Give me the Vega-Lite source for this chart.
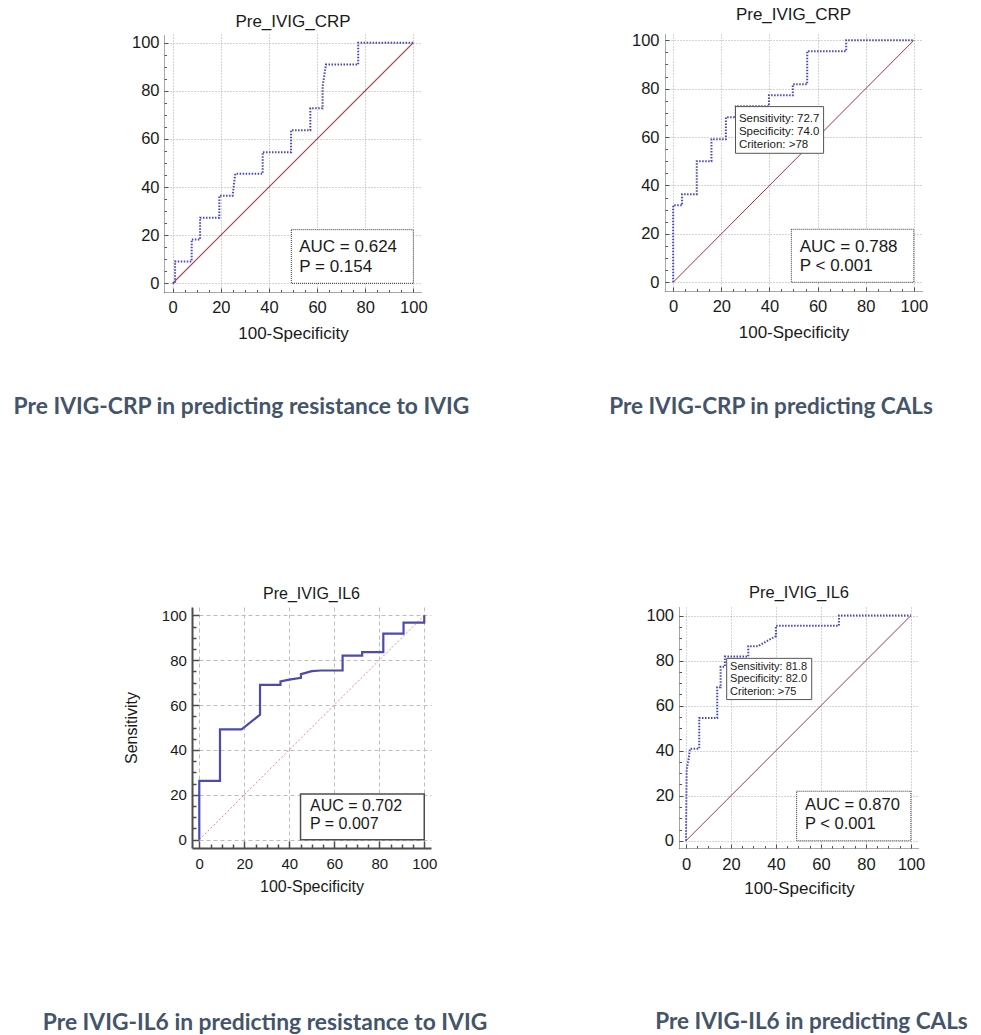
{
  "$schema": "https://vega.github.io/schema/vega-lite/v6.json",
  "autosize": {"type": "none"},
  "padding": {"left": 164, "top": 34, "right": 817, "bottom": 1001},
  "background": "white",
  "config": {"view": {"stroke": null}},
  "bounds": "flush",
  "spacing": 573,
  "vconcat": [
    {
      "hconcat": [
        {
          "bounds": "flush",
          "title": {"text": "Pre IVIG-CRP in predicting resistance to IVIG", "orient": "bottom", "anchor": "middle", "frame": "group", "dx": 77.5, "offset": 72, "font": "Lato", "fontSize": 22.8, "fontWeight": "bold", "color": "#44546A", "baseline": "alphabetic"},
          "vconcat": [
            {
              "width": 258, "height": 258,
              "title": {"text": "Pre_IVIG_CRP", "font": "Liberation Sans", "fontSize": 17, "fontWeight": "normal", "color": "#1a1a1a", "baseline": "alphabetic", "offset": -10, "anchor": "middle", "frame": "group"},
              "resolve": {"axis": {"x": "independent", "y": "independent"}},
              "layer": [
                {
                  "data": {"values": [{"fpr": 0, "sens": 0, "ref": "chance"}, {"fpr": 100, "sens": 100, "ref": "chance"}]},
                  "mark": {"type": "line", "stroke": "#b0323c", "strokeWidth": 1.1, "strokeOpacity": 1},
                  "encoding": {
                    "x": {"field": "fpr", "type": "quantitative", "scale": {"domain": [-3.6, 103.6], "nice": false, "zero": false},
                      "axis": {"orient": "bottom", "values": [5,10,15,25,30,35,45,50,55,65,70,75,85,90,95], "labels": false, "grid": false, "domain": false, "title": null, "tickSize": -2.5, "tickColor": "#555555", "tickWidth": 1}},
                    "y": {"field": "sens", "type": "quantitative", "scale": {"domain": [-3.6, 103.6], "nice": false, "zero": false},
                      "axis": {"orient": "left", "values": [5,10,15,25,30,35,45,50,55,65,70,75,85,90,95], "labels": false, "grid": false, "domain": false, "title": null, "tickSize": -2.5, "tickColor": "#555555", "tickWidth": 1}}
                  }
                },
                {
                  "data": {"values": [
                    {"i": 0, "fpr": 0, "sens": 0}, {"i": 1, "fpr": 1, "sens": 0}, {"i": 2, "fpr": 1, "sens": 9.1},
                    {"i": 3, "fpr": 7.9, "sens": 9.1}, {"i": 4, "fpr": 7.9, "sens": 18.2}, {"i": 5, "fpr": 11.4, "sens": 18.2},
                    {"i": 6, "fpr": 11.4, "sens": 27.3}, {"i": 7, "fpr": 19.4, "sens": 27.3}, {"i": 8, "fpr": 19.4, "sens": 36.4},
                    {"i": 9, "fpr": 24.9, "sens": 36.4}, {"i": 10, "fpr": 26, "sens": 45.5}, {"i": 11, "fpr": 37.4, "sens": 45.5},
                    {"i": 12, "fpr": 37.4, "sens": 54.5}, {"i": 13, "fpr": 49.2, "sens": 54.5}, {"i": 14, "fpr": 49.2, "sens": 63.6},
                    {"i": 15, "fpr": 57.2, "sens": 63.6}, {"i": 16, "fpr": 57.2, "sens": 72.7}, {"i": 17, "fpr": 62.3, "sens": 72.7},
                    {"i": 18, "fpr": 62.3, "sens": 81.8}, {"i": 19, "fpr": 63.7, "sens": 90.9}, {"i": 20, "fpr": 77.1, "sens": 90.9},
                    {"i": 21, "fpr": 77.1, "sens": 100}, {"i": 22, "fpr": 100, "sens": 100}
                  ]},
                  "mark": {"type": "line", "stroke": "#4545c4", "strokeWidth": 2, "strokeDash": [1.5, 1.5]},
                  "encoding": {
                    "x": {"field": "fpr", "type": "quantitative", "scale": {"domain": [-3.6, 103.6], "nice": false, "zero": false},
                      "axis": {"orient": "bottom", "values": [0,20,40,60,80,100], "title": "100-Specificity", "grid": true, "gridColor": "#a8a8a8", "gridDash": [1,2], "gridWidth": 1, "domainColor": "#505050", "domainDash": [1,1], "domainWidth": 1, "tickColor": "#505050", "tickSize": -4, "tickWidth": 1, "labelFont": "Liberation Sans", "labelFontSize": 16.5, "labelColor": "#1a1a1a", "labelPadding": 11, "labelFlush": false, "labelOverlap": false, "titleFont": "Liberation Sans", "titleFontSize": 17, "titleFontWeight": "normal", "titleColor": "#1a1a1a", "titlePadding": 10}},
                    "y": {"field": "sens", "type": "quantitative", "scale": {"domain": [-3.6, 103.6], "nice": false, "zero": false},
                      "axis": {"orient": "left", "values": [0,20,40,60,80,100], "title": null, "grid": true, "gridColor": "#a8a8a8", "gridDash": [1,2], "gridWidth": 1, "domainColor": "#505050", "domainDash": [1,1], "domainWidth": 1, "tickColor": "#505050", "tickSize": -4, "tickWidth": 1, "labelFont": "Liberation Sans", "labelFontSize": 16.5, "labelColor": "#1a1a1a", "labelPadding": 9, "labelFlush": false, "labelOverlap": false}},
                    "order": {"field": "i"}
                  }
                },
                {
                  "data": {"values": [{"stat": "AUC = 0.624\nP = 0.154"}]},
                  "mark": {"type": "rect", "fill": "white", "stroke": "#333333", "strokeDash": [1,1], "strokeWidth": 1},
                  "encoding": {
                    "x": {"datum": 49.3, "type": "quantitative", "scale": {"domain": [-3.6, 103.6], "nice": false, "zero": false}, "axis": null},
                    "x2": {"datum": 100},
                    "y": {"datum": 0, "type": "quantitative", "scale": {"domain": [-3.6, 103.6], "nice": false, "zero": false}, "axis": null},
                    "y2": {"datum": 22.3}
                  }
                },
                {
                  "data": {"values": [{"stat": "AUC = 0.624\nP = 0.154"}]},
                  "mark": {"type": "text", "align": "left", "baseline": "alphabetic", "font": "Liberation Sans", "fontSize": 17, "lineBreak": "\n", "lineHeight": 20, "color": "#1a1a1a"},
                  "encoding": {
                    "x": {"datum": 52.6, "type": "quantitative", "scale": {"domain": [-3.6, 103.6], "nice": false, "zero": false}, "axis": null},
                    "y": {"datum": 13.2, "type": "quantitative", "scale": {"domain": [-3.6, 103.6], "nice": false, "zero": false}, "axis": null},
                    "text": {"field": "stat"}
                  }
                }
              ]
            }
          ]
        },
        {
          "bounds": "flush",
          "title": {"text": "Pre IVIG-CRP in predicting CALs", "orient": "bottom", "anchor": "middle", "frame": "group", "dx": 106, "offset": 73.5, "font": "Lato", "fontSize": 22.5, "fontWeight": "bold", "color": "#44546A", "baseline": "alphabetic"},
          "vconcat": [
            {
              "width": 257, "height": 257,
              "title": {"text": "Pre_IVIG_CRP", "font": "Liberation Sans", "fontSize": 17, "fontWeight": "normal", "color": "#1a1a1a", "baseline": "alphabetic", "offset": -5, "anchor": "middle", "frame": "group"},
              "resolve": {"axis": {"x": "independent", "y": "independent"}},
              "layer": [
                {
                  "data": {"values": [{"fpr": 0, "sens": 0}, {"fpr": 100, "sens": 100}]},
                  "mark": {"type": "line", "stroke": "#a8343c", "strokeWidth": 1},
                  "encoding": {
                    "x": {"field": "fpr", "type": "quantitative", "scale": {"domain": [-3.4, 103.4], "nice": false, "zero": false},
                      "axis": {"orient": "bottom", "values": [5,10,15,25,30,35,45,50,55,65,70,75,85,90,95], "labels": false, "grid": false, "domain": false, "title": null, "tickSize": -2.5, "tickColor": "#555555", "tickWidth": 1}},
                    "y": {"field": "sens", "type": "quantitative", "scale": {"domain": [-3.6, 102.6], "nice": false, "zero": false},
                      "axis": {"orient": "left", "values": [5,10,15,25,30,35,45,50,55,65,70,75,85,90,95], "labels": false, "grid": false, "domain": false, "title": null, "tickSize": -2.5, "tickColor": "#555555", "tickWidth": 1}}
                  }
                },
                {
                  "data": {"values": [
                    {"i": 0, "fpr": 0, "sens": 0}, {"i": 1, "fpr": 0, "sens": 31.8}, {"i": 2, "fpr": 3.7, "sens": 31.8},
                    {"i": 3, "fpr": 3.7, "sens": 36.4}, {"i": 4, "fpr": 9.8, "sens": 36.4}, {"i": 5, "fpr": 9.8, "sens": 50},
                    {"i": 6, "fpr": 15.9, "sens": 50}, {"i": 7, "fpr": 15.9, "sens": 59.1}, {"i": 8, "fpr": 21.9, "sens": 59.1},
                    {"i": 9, "fpr": 21.9, "sens": 68.2}, {"i": 10, "fpr": 26, "sens": 68.2}, {"i": 11, "fpr": 26, "sens": 72.7},
                    {"i": 12, "fpr": 39.8, "sens": 72.7}, {"i": 13, "fpr": 39.8, "sens": 77.3}, {"i": 14, "fpr": 49.7, "sens": 77.3},
                    {"i": 15, "fpr": 49.7, "sens": 81.8}, {"i": 16, "fpr": 55.7, "sens": 81.8}, {"i": 17, "fpr": 55.7, "sens": 95.5},
                    {"i": 18, "fpr": 71.9, "sens": 95.5}, {"i": 19, "fpr": 71.9, "sens": 100}, {"i": 20, "fpr": 100, "sens": 100}
                  ]},
                  "mark": {"type": "line", "stroke": "#4545c4", "strokeWidth": 2, "strokeDash": [1.5, 1.5]},
                  "encoding": {
                    "x": {"field": "fpr", "type": "quantitative", "scale": {"domain": [-3.4, 103.4], "nice": false, "zero": false},
                      "axis": {"orient": "bottom", "values": [0,20,40,60,80,100], "title": "100-Specificity", "grid": true, "gridColor": "#a8a8a8", "gridDash": [1,2], "gridWidth": 1, "domainColor": "#505050", "domainDash": [1,1], "domainWidth": 1, "tickColor": "#505050", "tickSize": -4, "tickWidth": 1, "labelFont": "Liberation Sans", "labelFontSize": 16.5, "labelColor": "#1a1a1a", "labelPadding": 11, "labelFlush": false, "labelOverlap": false, "titleFont": "Liberation Sans", "titleFontSize": 17, "titleFontWeight": "normal", "titleColor": "#1a1a1a", "titlePadding": 10}},
                    "y": {"field": "sens", "type": "quantitative", "scale": {"domain": [-3.6, 102.6], "nice": false, "zero": false},
                      "axis": {"orient": "left", "values": [0,20,40,60,80,100], "title": null, "grid": true, "gridColor": "#a8a8a8", "gridDash": [1,2], "gridWidth": 1, "domainColor": "#505050", "domainDash": [1,1], "domainWidth": 1, "tickColor": "#505050", "tickSize": -4, "tickWidth": 1, "labelFont": "Liberation Sans", "labelFontSize": 16.5, "labelColor": "#1a1a1a", "labelPadding": 10, "labelFlush": false, "labelOverlap": false}},
                    "order": {"field": "i"}
                  }
                },
                {
                  "data": {"values": [{"stat": "AUC = 0.788\nP < 0.001"}]},
                  "mark": {"type": "rect", "fill": "white", "stroke": "#333333", "strokeDash": [1,1], "strokeWidth": 1},
                  "encoding": {
                    "x": {"datum": 49.1, "type": "quantitative", "scale": {"domain": [-3.4, 103.4], "nice": false, "zero": false}, "axis": null},
                    "x2": {"datum": 100},
                    "y": {"datum": 0, "type": "quantitative", "scale": {"domain": [-3.6, 102.6], "nice": false, "zero": false}, "axis": null},
                    "y2": {"datum": 21.9}
                  }
                },
                {
                  "data": {"values": [{"stat": "AUC = 0.788\nP < 0.001"}]},
                  "mark": {"type": "text", "align": "left", "baseline": "alphabetic", "font": "Liberation Sans", "fontSize": 17, "lineBreak": "\n", "lineHeight": 19, "color": "#1a1a1a"},
                  "encoding": {
                    "x": {"datum": 52.6, "type": "quantitative", "scale": {"domain": [-3.4, 103.4], "nice": false, "zero": false}, "axis": null},
                    "y": {"datum": 12.6, "type": "quantitative", "scale": {"domain": [-3.6, 102.6], "nice": false, "zero": false}, "axis": null},
                    "text": {"field": "stat"}
                  }
                },
                {
                  "data": {"values": [{"crit": "Sensitivity: 72.7\nSpecificity: 74.0\nCriterion: >78"}]},
                  "mark": {"type": "rect", "fill": "white", "stroke": "#555555", "strokeWidth": 1},
                  "encoding": {
                    "x": {"datum": 25.9, "type": "quantitative", "scale": {"domain": [-3.4, 103.4], "nice": false, "zero": false}, "axis": null},
                    "x2": {"datum": 62.5},
                    "y": {"datum": 53.3, "type": "quantitative", "scale": {"domain": [-3.6, 102.6], "nice": false, "zero": false}, "axis": null},
                    "y2": {"datum": 72.6}
                  }
                },
                {
                  "data": {"values": [{"crit": "Sensitivity: 72.7\nSpecificity: 74.0\nCriterion: >78"}]},
                  "mark": {"type": "text", "align": "left", "baseline": "alphabetic", "font": "Liberation Sans", "fontSize": 11.5, "lineBreak": "\n", "lineHeight": 13.3, "color": "#1a1a1a"},
                  "encoding": {
                    "x": {"datum": 27.3, "type": "quantitative", "scale": {"domain": [-3.4, 103.4], "nice": false, "zero": false}, "axis": null},
                    "y": {"datum": 66.4, "type": "quantitative", "scale": {"domain": [-3.6, 102.6], "nice": false, "zero": false}, "axis": null},
                    "text": {"field": "crit"}
                  }
                }
              ]
            }
          ]
        }
      ],
      "spacing": 501,
      "bounds": "flush"
    },
    {
      "hconcat": [
        {
          "width": 28, "height": 241,
          "data": {"values": [{"blank": ""}]},
          "mark": {"type": "text"},
          "encoding": {"text": {"field": "blank"}}
        },
        {
          "hconcat": [
            {
              "bounds": "flush",
              "title": {"text": "Pre IVIG-IL6 in predicting resistance to IVIG", "orient": "bottom", "anchor": "middle", "frame": "group", "dx": 73, "offset": 135, "font": "Lato", "fontSize": 22.8, "fontWeight": "bold", "color": "#44546A", "baseline": "alphabetic"},
              "vconcat": [
                {
                  "width": 239, "height": 241,
                  "title": {"text": "Pre_IVIG_IL6", "font": "Liberation Sans", "fontSize": 16, "fontWeight": "normal", "color": "#1a1a1a", "baseline": "alphabetic", "offset": -7.5, "anchor": "middle", "frame": "group"},
                  "resolve": {"axis": {"x": "independent", "y": "independent"}},
                  "layer": [
                    {
                      "data": {"values": [{"fpr": 0, "sens": 0}, {"fpr": 100, "sens": 100}]},
                      "mark": {"type": "line", "stroke": "#e88a8a", "strokeWidth": 1, "strokeDash": [2, 2]},
                      "encoding": {
                        "x": {"field": "fpr", "type": "quantitative", "scale": {"domain": [-3.24, 103], "nice": false, "zero": false},
                          "axis": {"orient": "bottom", "values": [5,10,15,25,30,35,45,50,55,65,70,75,85,90,95], "labels": false, "grid": false, "domain": false, "title": null, "tickSize": -4, "tickColor": "#4d4d4d", "tickWidth": 1.5}},
                        "y": {"field": "sens", "type": "quantitative", "scale": {"domain": [-3.7, 103.7], "nice": false, "zero": false},
                          "axis": {"orient": "left", "values": [5,10,15,25,30,35,45,50,55,65,70,75,85,90,95], "labels": false, "grid": false, "domain": false, "title": null, "tickSize": -4, "tickColor": "#4d4d4d", "tickWidth": 1.5}}
                      }
                    },
                    {
                      "data": {"values": [
                        {"i": 0, "fpr": 0, "sens": 0}, {"i": 1, "fpr": 0, "sens": 26.2}, {"i": 2, "fpr": 9.2, "sens": 26.2},
                        {"i": 3, "fpr": 9.2, "sens": 49.2}, {"i": 4, "fpr": 18.8, "sens": 49.2}, {"i": 5, "fpr": 27, "sens": 55.7},
                        {"i": 6, "fpr": 27, "sens": 69}, {"i": 7, "fpr": 36.1, "sens": 69}, {"i": 8, "fpr": 36.1, "sens": 70.5},
                        {"i": 9, "fpr": 40, "sens": 71.3}, {"i": 10, "fpr": 45.2, "sens": 72.1}, {"i": 11, "fpr": 45.2, "sens": 73.8},
                        {"i": 12, "fpr": 50, "sens": 75.1}, {"i": 13, "fpr": 54, "sens": 75.4}, {"i": 14, "fpr": 63.7, "sens": 75.4},
                        {"i": 15, "fpr": 63.7, "sens": 82}, {"i": 16, "fpr": 72.4, "sens": 82}, {"i": 17, "fpr": 72.4, "sens": 83.6},
                        {"i": 18, "fpr": 81.8, "sens": 83.6}, {"i": 19, "fpr": 81.8, "sens": 91.8}, {"i": 20, "fpr": 90.8, "sens": 91.8},
                        {"i": 21, "fpr": 90.8, "sens": 96.7}, {"i": 22, "fpr": 100, "sens": 96.7}, {"i": 23, "fpr": 100, "sens": 100}
                      ]},
                      "mark": {"type": "line", "stroke": "#4a4ab2", "strokeWidth": 2.2},
                      "encoding": {
                        "x": {"field": "fpr", "type": "quantitative", "scale": {"domain": [-3.24, 103], "nice": false, "zero": false},
                          "axis": {"orient": "bottom", "values": [0,20,40,60,80,100], "title": "100-Specificity", "grid": true, "gridColor": "#bdbdbd", "gridDash": [4,3], "gridWidth": 1, "domainColor": "#4d4d4d", "domainWidth": 2, "tickColor": "#4d4d4d", "tickSize": -7, "tickWidth": 1.5, "labelFont": "Liberation Sans", "labelFontSize": 15, "labelColor": "#1a1a1a", "labelPadding": 15, "labelFlush": false, "labelOverlap": false, "titleFont": "Liberation Sans", "titleFontSize": 16, "titleFontWeight": "normal", "titleColor": "#1a1a1a", "titlePadding": 7.5}},
                        "y": {"field": "sens", "type": "quantitative", "scale": {"domain": [-3.7, 103.7], "nice": false, "zero": false},
                          "axis": {"orient": "left", "values": [0,20,40,60,80,100], "title": "Sensitivity", "grid": true, "gridColor": "#bdbdbd", "gridDash": [4,3], "gridWidth": 1, "domainColor": "#4d4d4d", "domainWidth": 2, "tickColor": "#4d4d4d", "tickSize": -7, "tickWidth": 1.5, "labelFont": "Liberation Sans", "labelFontSize": 15, "labelColor": "#1a1a1a", "labelPadding": 12.6, "labelFlush": false, "labelOverlap": false, "titleFont": "Liberation Sans", "titleFontSize": 16, "titleFontWeight": "normal", "titleColor": "#1a1a1a", "titlePadding": 22}},
                        "order": {"field": "i"}
                      }
                    },
                    {
                      "data": {"values": [{"stat": "AUC = 0.702\nP = 0.007"}]},
                      "mark": {"type": "rect", "fill": "white", "stroke": "#4d4d4d", "strokeWidth": 1.5},
                      "encoding": {
                        "x": {"datum": 45, "type": "quantitative", "scale": {"domain": [-3.24, 103], "nice": false, "zero": false}, "axis": null},
                        "x2": {"datum": 100},
                        "y": {"datum": 0, "type": "quantitative", "scale": {"domain": [-3.7, 103.7], "nice": false, "zero": false}, "axis": null},
                        "y2": {"datum": 20.4}
                      }
                    },
                    {
                      "data": {"values": [{"stat": "AUC = 0.702\nP = 0.007"}]},
                      "mark": {"type": "text", "align": "left", "baseline": "alphabetic", "font": "Liberation Sans", "fontSize": 16, "lineBreak": "\n", "lineHeight": 18, "color": "#1a1a1a"},
                      "encoding": {
                        "x": {"datum": 49.2, "type": "quantitative", "scale": {"domain": [-3.24, 103], "nice": false, "zero": false}, "axis": null},
                        "y": {"datum": 12.6, "type": "quantitative", "scale": {"domain": [-3.7, 103.7], "nice": false, "zero": false}, "axis": null},
                        "text": {"field": "stat"}
                      }
                    }
                  ]
                }
              ]
            },
            {
              "bounds": "flush",
              "title": {"text": "Pre IVIG-IL6 in predicting CALs", "orient": "bottom", "anchor": "middle", "frame": "group", "dx": 132.5, "offset": 132, "font": "Lato", "fontSize": 22.5, "fontWeight": "bold", "color": "#44546A", "baseline": "alphabetic"},
              "vconcat": [
                {
                  "width": 240, "height": 241,
                  "title": {"text": "Pre_IVIG_IL6", "font": "Liberation Sans", "fontSize": 16.5, "fontWeight": "normal", "color": "#1a1a1a", "baseline": "alphabetic", "offset": -7.2, "anchor": "middle", "frame": "group"},
                  "resolve": {"axis": {"x": "independent", "y": "independent"}},
                  "layer": [
                    {
                      "data": {"values": [{"fpr": 0, "sens": 0}, {"fpr": 100, "sens": 100}]},
                      "mark": {"type": "line", "stroke": "#a8343c", "strokeWidth": 1},
                      "encoding": {
                        "x": {"field": "fpr", "type": "quantitative", "scale": {"domain": [-3.1, 103.6], "nice": false, "zero": false},
                          "axis": {"orient": "bottom", "values": [5,10,15,25,30,35,45,50,55,65,70,75,85,90,95], "labels": false, "grid": false, "domain": false, "title": null, "tickSize": -2.5, "tickColor": "#555555", "tickWidth": 1}},
                        "y": {"field": "sens", "type": "quantitative", "scale": {"domain": [-3.2, 103.8], "nice": false, "zero": false},
                          "axis": {"orient": "left", "values": [5,10,15,25,30,35,45,50,55,65,70,75,85,90,95], "labels": false, "grid": false, "domain": false, "title": null, "tickSize": -2.5, "tickColor": "#555555", "tickWidth": 1}}
                      }
                    },
                    {
                      "data": {"values": [
                        {"i": 0, "fpr": 0, "sens": 0}, {"i": 1, "fpr": 0.3, "sens": 31.8}, {"i": 2, "fpr": 1.2, "sens": 36.4},
                        {"i": 3, "fpr": 1.8, "sens": 40.9}, {"i": 4, "fpr": 5.9, "sens": 40.9}, {"i": 5, "fpr": 5.9, "sens": 54.5},
                        {"i": 6, "fpr": 13.9, "sens": 54.5}, {"i": 7, "fpr": 13.9, "sens": 68.2}, {"i": 8, "fpr": 15.4, "sens": 68.2},
                        {"i": 9, "fpr": 15.4, "sens": 77.3}, {"i": 10, "fpr": 17.3, "sens": 77.3}, {"i": 11, "fpr": 17.3, "sens": 81.8},
                        {"i": 12, "fpr": 27.7, "sens": 81.8}, {"i": 13, "fpr": 27.7, "sens": 86.4}, {"i": 14, "fpr": 32, "sens": 86.4},
                        {"i": 15, "fpr": 40, "sens": 90.9}, {"i": 16, "fpr": 40, "sens": 95.5}, {"i": 17, "fpr": 68, "sens": 95.5},
                        {"i": 18, "fpr": 68, "sens": 100}, {"i": 19, "fpr": 100, "sens": 100}
                      ]},
                      "mark": {"type": "line", "stroke": "#4545c4", "strokeWidth": 2, "strokeDash": [1.5, 1.5]},
                      "encoding": {
                        "x": {"field": "fpr", "type": "quantitative", "scale": {"domain": [-3.1, 103.6], "nice": false, "zero": false},
                          "axis": {"orient": "bottom", "values": [0,20,40,60,80,100], "title": "100-Specificity", "grid": true, "gridColor": "#a8a8a8", "gridDash": [1,2], "gridWidth": 1, "domainColor": "#505050", "domainDash": [1,1], "domainWidth": 1, "tickColor": "#505050", "tickSize": -4, "tickWidth": 1, "labelFont": "Liberation Sans", "labelFontSize": 16.5, "labelColor": "#1a1a1a", "labelPadding": 12, "labelFlush": false, "labelOverlap": false, "titleFont": "Liberation Sans", "titleFontSize": 17, "titleFontWeight": "normal", "titleColor": "#1a1a1a", "titlePadding": 8}},
                        "y": {"field": "sens", "type": "quantitative", "scale": {"domain": [-3.2, 103.8], "nice": false, "zero": false},
                          "axis": {"orient": "left", "values": [0,20,40,60,80,100], "title": null, "grid": true, "gridColor": "#a8a8a8", "gridDash": [1,2], "gridWidth": 1, "domainColor": "#505050", "domainDash": [1,1], "domainWidth": 1, "tickColor": "#505050", "tickSize": -4, "tickWidth": 1, "labelFont": "Liberation Sans", "labelFontSize": 16.5, "labelColor": "#1a1a1a", "labelPadding": 9.5, "labelFlush": false, "labelOverlap": false}},
                        "order": {"field": "i"}
                      }
                    },
                    {
                      "data": {"values": [{"stat": "AUC = 0.870\nP < 0.001"}]},
                      "mark": {"type": "rect", "fill": "white", "stroke": "#333333", "strokeDash": [1,1], "strokeWidth": 1},
                      "encoding": {
                        "x": {"datum": 49.2, "type": "quantitative", "scale": {"domain": [-3.1, 103.6], "nice": false, "zero": false}, "axis": null},
                        "x2": {"datum": 100},
                        "y": {"datum": 0, "type": "quantitative", "scale": {"domain": [-3.2, 103.8], "nice": false, "zero": false}, "axis": null},
                        "y2": {"datum": 22}
                      }
                    },
                    {
                      "data": {"values": [{"stat": "AUC = 0.870\nP < 0.001"}]},
                      "mark": {"type": "text", "align": "left", "baseline": "alphabetic", "font": "Liberation Sans", "fontSize": 16.5, "lineBreak": "\n", "lineHeight": 19, "color": "#1a1a1a"},
                      "encoding": {
                        "x": {"datum": 52.9, "type": "quantitative", "scale": {"domain": [-3.1, 103.6], "nice": false, "zero": false}, "axis": null},
                        "y": {"datum": 13.6, "type": "quantitative", "scale": {"domain": [-3.2, 103.8], "nice": false, "zero": false}, "axis": null},
                        "text": {"field": "stat"}
                      }
                    },
                    {
                      "data": {"values": [{"crit": "Sensitivity: 81.8\nSpecificity: 82.0\nCriterion: >75"}]},
                      "mark": {"type": "rect", "fill": "white", "stroke": "#555555", "strokeWidth": 1},
                      "encoding": {
                        "x": {"datum": 18.1, "type": "quantitative", "scale": {"domain": [-3.1, 103.6], "nice": false, "zero": false}, "axis": null},
                        "x2": {"datum": 55.9},
                        "y": {"datum": 62.7, "type": "quantitative", "scale": {"domain": [-3.2, 103.8], "nice": false, "zero": false}, "axis": null},
                        "y2": {"datum": 81}
                      }
                    },
                    {
                      "data": {"values": [{"crit": "Sensitivity: 81.8\nSpecificity: 82.0\nCriterion: >75"}]},
                      "mark": {"type": "text", "align": "left", "baseline": "alphabetic", "font": "Liberation Sans", "fontSize": 11, "lineBreak": "\n", "lineHeight": 12.5, "color": "#1a1a1a"},
                      "encoding": {
                        "x": {"datum": 19.6, "type": "quantitative", "scale": {"domain": [-3.1, 103.6], "nice": false, "zero": false}, "axis": null},
                        "y": {"datum": 76, "type": "quantitative", "scale": {"domain": [-3.2, 103.8], "nice": false, "zero": false}, "axis": null},
                        "text": {"field": "crit"}
                      }
                    }
                  ]
                }
              ]
            }
          ],
          "spacing": 487,
          "bounds": "flush"
        }
      ],
      "spacing": 0,
      "bounds": "flush"
    }
  ]
}
